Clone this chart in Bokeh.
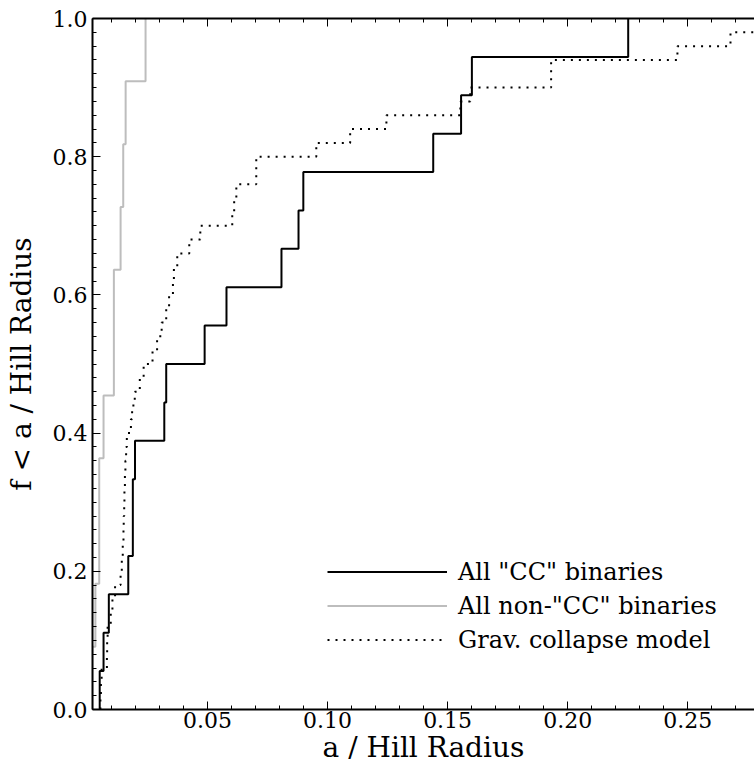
from bokeh.plotting import figure
from bokeh.models import (LinearAxis, FixedTicker, PrintfTickFormatter, Range1d,
                          Legend, LegendItem, CustomJSTickFormatter)
from bokeh.embed import file_html
from bokeh.resources import INLINE

# Sorted separations (a / Hill radius)
cc_a = [0.0051, 0.0067, 0.0089, 0.0170, 0.0189, 0.0189, 0.0198, 0.0320, 0.0328,
        0.0488, 0.0579, 0.0808, 0.0879, 0.0899, 0.1440, 0.1556, 0.1601, 0.2252]
noncc_a = [0.0020, 0.0033, 0.0049, 0.0049, 0.0067, 0.0110, 0.0110, 0.0138,
           0.0149, 0.0159, 0.0242]
model_a = [0.0054, 0.0056, 0.0059, 0.0081, 0.0082, 0.0084, 0.0097, 0.0104, 0.0115,
           0.0138, 0.0143, 0.0147, 0.0150, 0.0151, 0.0153, 0.0154, 0.0156, 0.0158,
           0.0161, 0.0164, 0.0181, 0.0186, 0.0197, 0.0218, 0.0234, 0.0271, 0.0290,
           0.0309, 0.0328, 0.0340, 0.0356, 0.0360, 0.0374, 0.0424, 0.0470, 0.0603,
           0.0611, 0.0620, 0.0703, 0.0703, 0.0953, 0.1094, 0.1245, 0.1553, 0.1594,
           0.1931, 0.1931, 0.2457, 0.2678, 0.2900]

labels = ['All "CC" binaries', 'All non-"CC" binaries', 'Grav. collapse model']

x_major = [0.05, 0.10, 0.15, 0.20, 0.25]
x_minor = [i / 100 for i in range(1, 30)]
y_major = [0.0, 0.2, 0.4, 0.6, 0.8, 1.0]
y_minor = [i / 50 for i in range(0, 51)]

FONT = "DejaVu Serif"


def step_cdf(vals):
    v = sorted(vals)
    n = len(v)
    xs, ys = [], []
    for i, x in enumerate(v):
        xs += [x, x]
        ys += [i / n, (i + 1) / n]
    return xs, ys


p = figure(frame_width=662, frame_height=691,
           min_border_left=92, min_border_right=0, min_border_top=18,
           min_border_bottom=62,
           x_range=Range1d(0.0021, 0.2778), y_range=Range1d(0.0, 1.0),
           output_backend="svg", toolbar_location=None,
           x_axis_location=None, y_axis_location=None)
p.outline_line_color = None
p.xgrid.visible = False
p.ygrid.visible = False
p.background_fill_color = "white"
p.border_fill_color = "white"


def style_axis(ax, ticks, minor, fmt):
    ax.ticker = FixedTicker(ticks=ticks, minor_ticks=minor)
    ax.formatter = PrintfTickFormatter(format=fmt)
    ax.axis_line_width = 2
    ax.axis_line_color = "black"
    ax.major_tick_in = 8
    ax.major_tick_out = 0
    ax.minor_tick_in = 4
    ax.minor_tick_out = 0
    ax.major_tick_line_width = 1
    ax.minor_tick_line_width = 1
    ax.major_label_text_font = FONT
    ax.major_label_text_color = "black"
    ax.major_label_text_font_size = "22px"
    ax.axis_label_text_font = FONT
    ax.axis_label_text_font_style = "normal"
    ax.axis_label_text_color = "black"


xb = LinearAxis(axis_label="a / Hill Radius")
style_axis(xb, x_major, x_minor, "%.2f")
xb.major_label_standoff = 2
xb.axis_label_text_font_size = "28px"
xb.axis_label_standoff = 0
p.add_layout(xb, "below")

xt = LinearAxis()
style_axis(xt, x_major, x_minor, "%.2f")
xt.formatter = CustomJSTickFormatter(code="return ''")
xt.major_label_standoff = 0
p.add_layout(xt, "above")

yl = LinearAxis(axis_label="f < a / Hill Radius")
style_axis(yl, y_major, y_minor, "%.1f")
yl.major_label_standoff = 5
yl.axis_label_text_font_size = "28px"
yl.axis_label_standoff = 12
p.add_layout(yl, "left")

cx, cy = step_cdf(cc_a)
gx, gy = step_cdf(noncc_a)
mx, my = step_cdf(model_a)

r_cc = p.line(cx, cy, line_color="black", line_width=2)
r_gr = p.line(gx, gy, line_color="#bdbdbd", line_width=2)
r_md = p.line(mx, my, line_color="black", line_width=2, line_dash="2 6")

legend = Legend(items=[LegendItem(label=labels[0], renderers=[r_cc]),
                       LegendItem(label=labels[1], renderers=[r_gr]),
                       LegendItem(label=labels[2], renderers=[r_md])],
                location=(235, 55), glyph_width=120, glyph_height=29,
                label_height=29, spacing=5, padding=0, margin=0,
                label_standoff=11,
                label_text_font=FONT, label_text_font_size="24px",
                label_text_color="black",
                border_line_color=None, background_fill_alpha=0)
p.add_layout(legend, "center")

open("out.html", "w").write(file_html(p, INLINE))
